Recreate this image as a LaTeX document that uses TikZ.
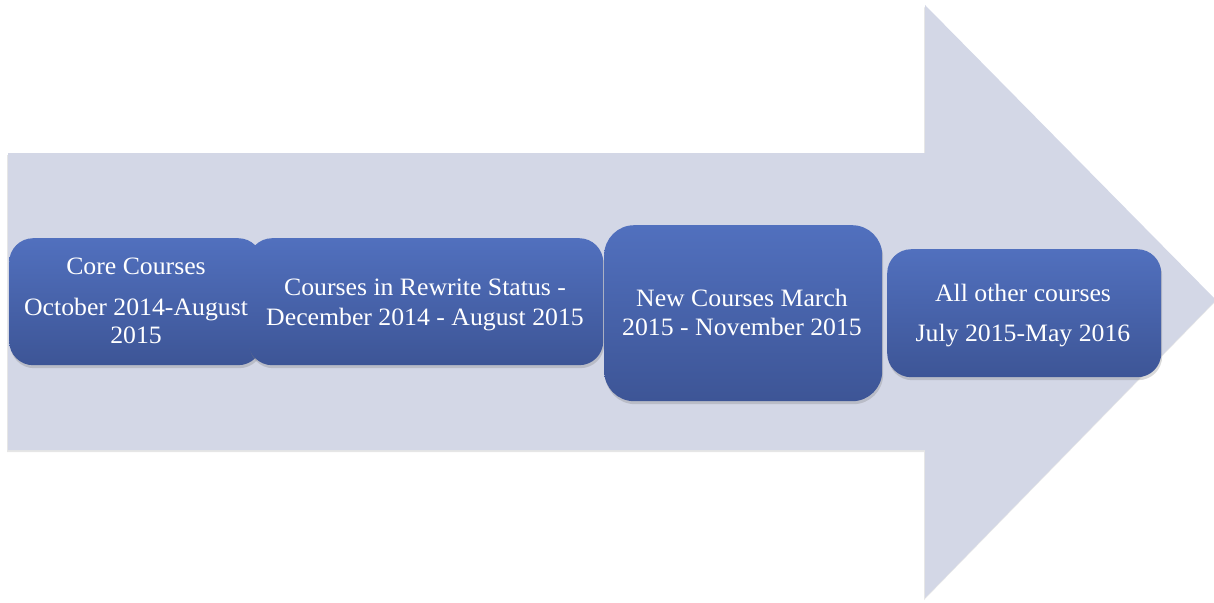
\documentclass[tikz,border=0pt]{standalone}
\usepackage{fontspec}
\setmainfont{Liberation Serif}[FakeStretch=1.03]
\usetikzlibrary{shadows}
\definecolor{arrowfill}{HTML}{D3D7E6}
\definecolor{boxtop}{HTML}{5170BE}
\definecolor{boxbot}{HTML}{3D5596}
\tikzset{
  boxst/.style={rounded corners=24pt, top color=boxtop, bottom color=boxbot, draw=none,
    anchor=north west, inner sep=0pt,
    drop shadow={opacity=0.3, shadow xshift=1pt, shadow yshift=-3pt}},
  txt/.style={text=white, font=\fontsize{25}{29}\selectfont, anchor=base, inner sep=0pt},
  arrowst/.style={fill=arrowfill, draw=none,
    drop shadow={opacity=0.2, shadow xshift=-1pt, shadow yshift=-2pt}}
}
\begin{document}
\begin{tikzpicture}[x=1pt,y=-1pt]
\useasboundingbox (0,0) rectangle (1214,602);
\coordinate (a1) at (8,153);
\coordinate (a2) at (925,153);
\coordinate (a3) at (925,5);
\coordinate (a4) at (1216,300);
\coordinate (a5) at (925,598);
\coordinate (a6) at (925,450);
\coordinate (a7) at (8,450);
\path[arrowst] (a1) -- (a2) -- (a3) -- (a4) -- (a5) -- (a6) -- (a7) -- cycle;

\node[boxst, minimum width=253pt, minimum height=127pt] (b1) at (9,238) {};
\node[boxst, minimum width=355pt, minimum height=127pt] (b2) at (248,238) {};
\node[boxst, rounded corners=30pt, minimum width=278pt, minimum height=176pt] (b3) at (604,225) {};
\node[boxst, minimum width=274pt, minimum height=128pt] (b4) at (887,249) {};

\node[txt] (t1a) at (136,274) {Core Courses};
\node[txt] (t1b) at (136,315) {October 2014-August};
\node[txt] (t1c) at (136,343) {2015};

\node[txt] (t2a) at (425,295) {Courses in Rewrite Status -};
\node[txt] (t2b) at (425,325) {December 2014 - August 2015};

\node[txt] (t3a) at (742,306) {New Courses March};
\node[txt] (t3b) at (742,335) {2015 - November 2015};

\node[txt] (t4a) at (1023,301) {All other courses};
\node[txt] (t4b) at (1023,341) {July 2015-May 2016};
\end{tikzpicture}
\end{document}
